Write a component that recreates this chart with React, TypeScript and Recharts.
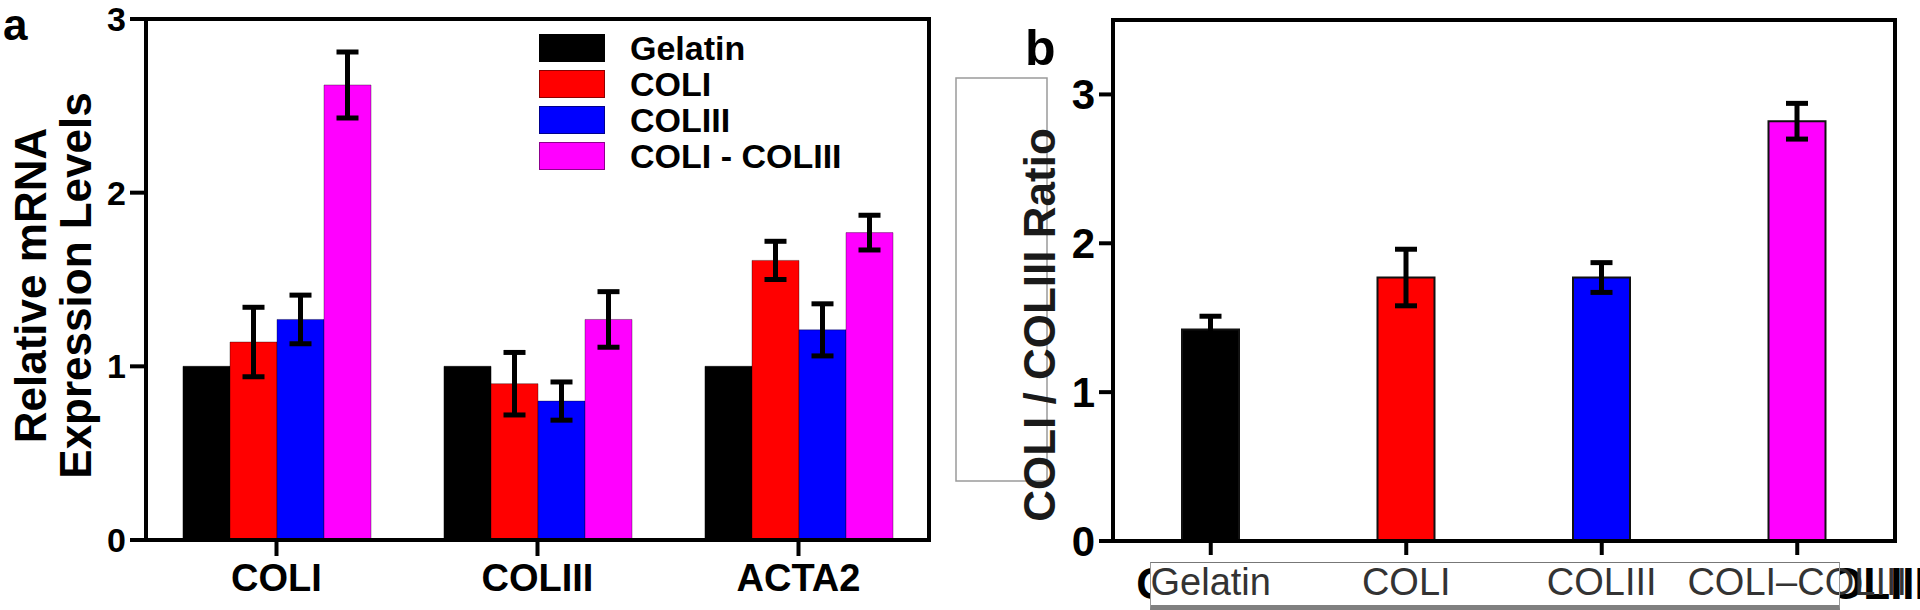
import React from "react";
import { Bar, BarChart, Cell, ErrorBar, Legend, ReferenceArea, XAxis, YAxis } from "recharts";

const FONT = '"Liberation Sans", Arial, Helvetica, sans-serif';

// panel a: relative mRNA expression
const genes = ["COLI", "COLIII", "ACTA2"];
const seriesNames = ["Gelatin", "COLI", "COLIII", "COLI - COLIII"];
const gelatin = [1.0, 1.0, 1.0];
const colI = [1.14, 0.9, 1.61];
const colIErr = [0.2, 0.18, 0.11];
const colIII = [1.27, 0.8, 1.21];
const colIIIErr = [0.14, 0.11, 0.15];
const colMix = [2.62, 1.27, 1.77];
const colMixErr = [0.19, 0.16, 0.1];
const expressionTicks = [0, 1, 2, 3];

// panel b: COLI / COLIII ratio
const groups = ["Gelatin", "COLI", "COLIII", "COLI–COLIII"];
const ratio = [1.42, 1.77, 1.77, 2.82];
const ratioErr = [0.09, 0.19, 0.1, 0.12];
const ratioTicks = [0, 1, 2, 3];
const ratioColors = ["#000000", "#ff0000", "#0000ff", "#ff00ff"];

const expressionData = genes.map((gene, i) => ({
  gene,
  gelatin: gelatin[i],
  colI: colI[i],
  colIErr: colIErr[i],
  colIII: colIII[i],
  colIIIErr: colIIIErr[i],
  colMix: colMix[i],
  colMixErr: colMixErr[i]
}));

const ratioData = groups.map((group, i) => ({ group, ratio: ratio[i], ratioErr: ratioErr[i] }));

const axisLine = { stroke: "#000", strokeWidth: 4 };

// label box over panel b categories (chart coords)
const BOX_LEFT = 210;
const BOX_RIGHT = 900;

function renderLegend(props: any) {
  const items = [...(props.payload || [])].sort(
    (a: any, b: any) => seriesNames.indexOf(a.value) - seriesNames.indexOf(b.value)
  );
  return (
    <div style={{ fontFamily: FONT }}>
      {items.map((entry: any) => (
        <div key={entry.value} style={{ display: "flex", alignItems: "center", height: 36 }}>
          <span
            style={{
              display: "inline-block",
              width: 66,
              height: 28,
              background: entry.color,
              boxSizing: "border-box",
              border: "1px solid rgba(0,0,0,0.45)"
            }}
          />
          <span style={{ marginLeft: 25, fontSize: 34, fontWeight: 700, color: "#000", lineHeight: "36px" }}>
            {entry.value}
          </span>
        </div>
      ))}
    </div>
  );
}

function expressionLabel(props: any) {
  const vb = props.viewBox || { y: 19, height: 521 };
  const cy = vb.y + vb.height / 2 + 6;
  return (
    <g fontFamily={FONT} fontWeight={700} fill="#000">
      <text x={3} y={40} fontSize={44}>a</text>
      <text transform={`translate(46, ${cy}) rotate(-90)`} textAnchor="middle" fontSize={44}>
        Relative mRNA
      </text>
      <text transform={`translate(91, ${cy}) rotate(-90)`} textAnchor="middle" fontSize={44}>
        Expression Levels
      </text>
    </g>
  );
}

function ratioLabel() {
  return (
    <g fontFamily={FONT} fontWeight={700}>
      <rect x={16} y={78} width={91} height={403} fill="none" stroke="#9a9a9a" strokeWidth={1.5} />
      <text x={85} y={65} fontSize={50} fill="#000">b</text>
      <text transform="translate(115, 325) rotate(-90)" textAnchor="middle" fontSize={44} fill="#1a1a1a">
        COLI / COLIII Ratio
      </text>
    </g>
  );
}

function RatioTick(props: any) {
  const { x, y, payload, index } = props;
  const clipId = `ratio-tick-clip-${index}`;
  // the bold original labels only peek out beside the box at both ends
  const showBold = index === 0 || index === groups.length - 1;
  return (
    <g>
      {showBold && (
        <>
          <clipPath id={clipId}>
            <rect x={-200} y={y - 10} width={BOX_LEFT + 200} height={70} />
            <rect x={BOX_RIGHT} y={y - 10} width={300} height={70} />
          </clipPath>
          <text
            x={x}
            y={y}
            dy="0.71em"
            textAnchor="middle"
            fontFamily={FONT}
            fontWeight={700}
            fontSize={44}
            fill="#000"
            clipPath={`url(#${clipId})`}
          >
            {payload.value}
          </text>
        </>
      )}
      <text x={x} y={y} dy="0.71em" textAnchor="middle" fontFamily={FONT} fontSize={38} fill="#333">
        {payload.value}
      </text>
    </g>
  );
}

function ExpressionChart() {
  return (
    <BarChart
      width={940}
      height={610}
      data={expressionData}
      margin={{ top: 19, right: 11, left: 0, bottom: 0 }}
      barGap={0}
      barSize={47}
    >
      <XAxis
        dataKey="gene"
        height={70}
        interval={0}
        tickSize={16}
        tickMargin={8}
        axisLine={axisLine}
        tickLine={axisLine}
        tick={{ fill: "#000", fontSize: 38, fontWeight: 700, fontFamily: FONT }}
      />
      <YAxis
        width={146}
        domain={[0, 3]}
        ticks={expressionTicks}
        interval={0}
        tickSize={16}
        tickMargin={4}
        axisLine={axisLine}
        tickLine={axisLine}
        tick={{ fill: "#000", fontSize: 34, fontWeight: 700, fontFamily: FONT }}
        label={{ content: expressionLabel }}
      />
      <ReferenceArea y1={0} y2={3} fill="none" stroke="#000" strokeWidth={4} />
      <Legend
        layout="vertical"
        align="center"
        verticalAlign="middle"
        content={renderLegend}
        wrapperStyle={{ left: 539, top: 30, width: "auto", height: "auto" }}
      />
      <Bar dataKey="gelatin" name="Gelatin" fill="#000000" stroke="rgba(0,0,0,0.5)" isAnimationActive={false} />
      <Bar dataKey="colI" name="COLI" fill="#ff0000" stroke="rgba(0,0,0,0.35)" isAnimationActive={false}>
        <ErrorBar dataKey="colIErr" direction="y" width={11} strokeWidth={5} stroke="#000" />
      </Bar>
      <Bar dataKey="colIII" name="COLIII" fill="#0000ff" stroke="rgba(0,0,0,0.35)" isAnimationActive={false}>
        <ErrorBar dataKey="colIIIErr" direction="y" width={11} strokeWidth={5} stroke="#000" />
      </Bar>
      <Bar dataKey="colMix" name="COLI - COLIII" fill="#ff00ff" stroke="rgba(0,0,0,0.35)" isAnimationActive={false}>
        <ErrorBar dataKey="colMixErr" direction="y" width={11} strokeWidth={5} stroke="#000" />
      </Bar>
    </BarChart>
  );
}

function RatioChart() {
  return (
    <BarChart width={980} height={610} data={ratioData} margin={{ top: 20, right: 25, left: 0, bottom: 0 }} barSize={57}>
      <XAxis
        dataKey="group"
        height={69}
        interval={0}
        tickSize={14}
        tickMargin={13}
        axisLine={axisLine}
        tickLine={axisLine}
        tick={<RatioTick />}
      />
      <YAxis
        width={173}
        domain={[0, 3.5]}
        ticks={ratioTicks}
        interval={0}
        tickSize={14}
        tickMargin={4}
        axisLine={axisLine}
        tickLine={axisLine}
        tick={{ fill: "#000", fontSize: 42, fontWeight: 700, fontFamily: FONT }}
        label={{ content: ratioLabel }}
      />
      <ReferenceArea y1={0} y2={3.5} fill="none" stroke="#000" strokeWidth={4} />
      <Bar dataKey="ratio" stroke="#111" strokeWidth={2} isAnimationActive={false}>
        {ratioData.map((d, i) => (
          <Cell key={d.group} fill={ratioColors[i]} />
        ))}
        <ErrorBar dataKey="ratioErr" direction="y" width={11} strokeWidth={5} stroke="#000" />
      </Bar>
    </BarChart>
  );
}

export default function App() {
  return (
    <div
      style={{
        position: "absolute",
        left: 0,
        top: 0,
        width: 1920,
        height: 610,
        background: "#fff",
        overflow: "hidden",
        fontFamily: FONT
      }}
    >
      <div style={{ position: "absolute", left: 0, top: 0 }}>
        <ExpressionChart />
      </div>
      <div style={{ position: "absolute", left: 940, top: 0 }}>
        <RatioChart />
      </div>
      <div
        style={{
          position: "absolute",
          left: 940 + BOX_LEFT,
          top: 562,
          width: BOX_RIGHT - BOX_LEFT,
          height: 48,
          boxSizing: "border-box",
          borderTop: "1px solid #777",
          borderLeft: "1px solid #999",
          borderRight: "1px solid #999",
          borderBottom: "5px solid #808080",
          pointerEvents: "none"
        }}
      />
    </div>
  );
}
